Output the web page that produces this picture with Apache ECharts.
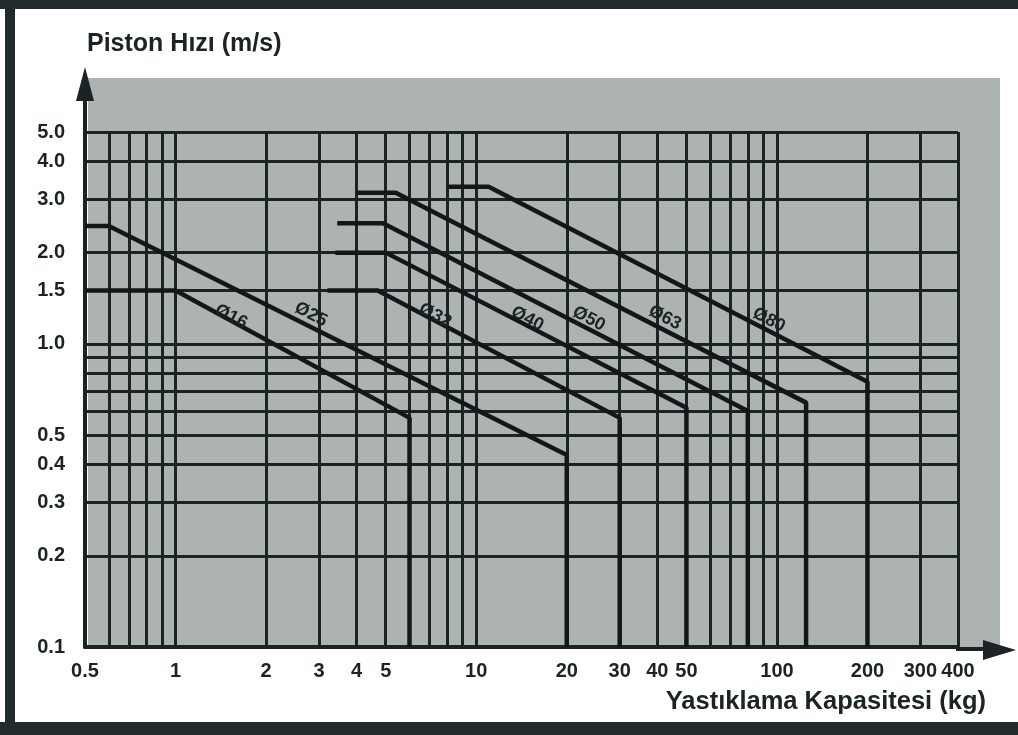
<!DOCTYPE html>
<html>
<head>
<meta charset="utf-8">
<title>Piston Hızı / Yastıklama Kapasitesi</title>
<script src="https://cdn.jsdelivr.net/npm/echarts@6/dist/echarts.min.js"></script>
<style>
  html, body { margin: 0; padding: 0; background: #fff; }
  #chart { width: 1018px; height: 735px; }
</style>
</head>
<body>
<div id="chart"></div>
<script>
(function(){
  'use strict';

  // log eksen: ızgara çizgileri ve etiketler
  var xGrid = [0.5, 0.6, 0.7, 0.8, 0.9, 1, 2, 3, 4, 5, 6, 7, 8, 9, 10,
               20, 30, 40, 50, 60, 70, 80, 90, 100, 200, 300, 400];
  var xTicks = [0.5, 1, 2, 3, 4, 5, 10, 20, 30, 40, 50, 100, 200, 300, 400];
  var yGrid = [0.1, 0.2, 0.3, 0.4, 0.5, 0.6, 0.7, 0.8, 0.9, 1, 1.5, 2, 3, 4, 5];
  var yTicks = [0.1, 0.2, 0.3, 0.4, 0.5, 1, 1.5, 2, 3, 4, 5];

  // her çap: yatay kısım, eğimli kısım, 0.1'e dikey düşüş
  var names = ['Ø16', 'Ø25', 'Ø32', 'Ø40', 'Ø50', 'Ø63', 'Ø80'];
  var d16 = [[0.5, 1.5], [1, 1.5], [6, 0.57], [6, 0.1]];
  var d25 = [[0.5, 2.45], [0.6, 2.45], [20, 0.43], [20, 0.1]];
  var d32 = [[3.2, 1.5], [4.7, 1.5], [30, 0.57], [30, 0.1]];
  var d40 = [[3.4, 2.0], [5, 2.0], [50, 0.615], [50, 0.1]];
  var d50 = [[3.45, 2.5], [4.9, 2.5], [80, 0.6], [80, 0.1]];
  var d63 = [[4, 3.15], [5.4, 3.15], [125, 0.64], [125, 0.1]];
  var d80 = [[8, 3.3], [11, 3.3], [200, 0.75], [200, 0.1]];
  var curves = [d16, d25, d32, d40, d50, d63, d80];

  // çap yazılarının yeri (veri koordinatı)
  var labelAt = [[1.53, 1.23], [2.82, 1.25], [7.3, 1.24], [14.8, 1.21],
                 [23.7, 1.21], [42.4, 1.22], [94, 1.2]];

  var ink = '#1b2325';
  var font = 'Liberation Sans';

  var chart = echarts.init(document.getElementById('chart'));

  var option = {
    animation: false,
    backgroundColor: '#ffffff',
    grid: { left: 85, right: 60, top: 132, bottom: 88, containLabel: false },
    xAxis: {
      type: 'log', logBase: 10, min: 0.5, max: 400,
      name: 'Yastıklama Kapasitesi (kg)',
      nameLocation: 'end', nameGap: 28, nameMoveOverlap: false,
      nameTextStyle: { align: 'right', verticalAlign: 'top', padding: [42, 0, 0, 0],
        fontFamily: font, fontWeight: 'bold', fontSize: 25.5, color: ink },
      axisLine: { show: true, lineStyle: { color: ink, width: 4 } },
      axisTick: { show: false, customValues: xGrid },
      axisLabel: { customValues: xTicks, margin: 14, fontFamily: font, fontWeight: 'bold',
        fontSize: 20, color: ink, hideOverlap: false,
        formatter: function (v) { return String(v); } },
      splitLine: { show: true, lineStyle: { color: ink, width: 3 } },
      minorSplitLine: { show: false }
    },
    yAxis: {
      type: 'log', logBase: 10, min: 0.1, max: 5,
      name: 'Piston Hızı (m/s)',
      nameLocation: 'end', nameGap: 88, nameMoveOverlap: false,
      nameTextStyle: { align: 'left', verticalAlign: 'middle', padding: [0, 0, 0, 2],
        fontFamily: font, fontWeight: 'bold', fontSize: 25, color: ink },
      axisLine: { show: true, lineStyle: { color: ink, width: 4 } },
      axisTick: { show: false, customValues: yGrid },
      axisLabel: { customValues: yTicks, margin: 20, fontFamily: font, fontWeight: 'bold',
        fontSize: 20, color: ink, hideOverlap: false,
        formatter: function (v) { return v.toFixed(1); } },
      splitLine: { show: true, lineStyle: { color: ink, width: 3 } },
      minorSplitLine: { show: false }
    },
    series: names.map(function (n, i) {
      return {
        name: n, type: 'line', data: curves[i],
        showSymbol: false, symbol: 'none', z: 5,
        lineStyle: { color: '#121819', width: 4.5 }
      };
    })
  };
  chart.setOption(option);

  var frame = [
    // gri zemin
    { type: 'rect', z: -10, shape: { x: 88, y: 78, width: 912, height: 570 },
      style: { fill: '#adb3b1' } },
    // tarama çerçevesi
    { type: 'rect', z: 60, shape: { x: 0, y: 0, width: 1018, height: 9 }, style: { fill: '#222b2b' } },
    { type: 'rect', z: 60, shape: { x: 5, y: 0, width: 10, height: 735 }, style: { fill: '#222b2b' } },
    { type: 'rect', z: 60, shape: { x: 0, y: 722, width: 1018, height: 13 }, style: { fill: '#222b2b' } },
    // eksen okları
    { type: 'line', z: 20, shape: { x1: 85, y1: 134, x2: 85, y2: 95 },
      style: { stroke: ink, lineWidth: 4 } },
    { type: 'polygon', z: 20, shape: { points: [[85, 67], [76, 101], [94, 101]] },
      style: { fill: ink } },
    { type: 'line', z: 20, shape: { x1: 956, y1: 649, x2: 990, y2: 649 },
      style: { stroke: ink, lineWidth: 4 } },
    { type: 'polygon', z: 20, shape: { points: [[1016, 650], [983, 640], [983, 660]] },
      style: { fill: ink } }
  ];

  var labels = names.map(function (n, i) {
    var p = chart.convertToPixel({ xAxisIndex: 0, yAxisIndex: 0 }, labelAt[i]);
    return {
      type: 'text', z: 50, x: p[0], y: p[1], rotation: -0.48,
      style: {
        text: n, fill: ink,
        font: 'bold 18px "' + font + '"',
        align: 'center', verticalAlign: 'middle',
        textAlign: 'center', textVerticalAlign: 'middle'
      }
    };
  });

  chart.setOption({ graphic: frame.concat(labels) });
})();
</script>
</body>
</html>
